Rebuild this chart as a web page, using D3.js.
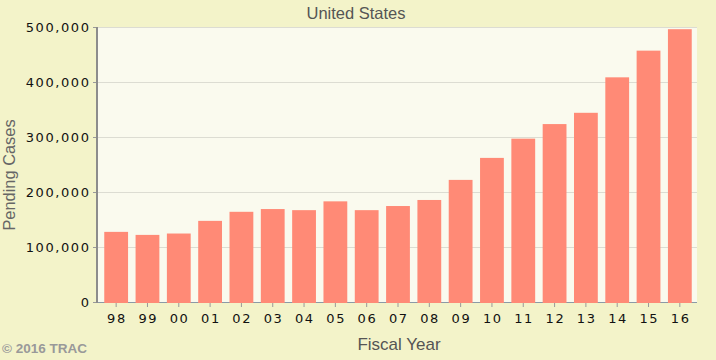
<!DOCTYPE html>
<html><head><meta charset="utf-8">
<script src="https://cdn.jsdelivr.net/npm/d3@7"></script>
<style>body{margin:0;background:#f3f3c9;}svg{display:block;}</style>
</head><body>
<svg id="c" width="716" height="360"></svg>
<script>
const years = ["98","99","00","01","02","03","04","05","06","07","08","09","10","11","12","13","14","15","16"];
const pending = [127500,122000,124500,147500,164000,169000,167000,183000,167000,174500,185500,222000,262000,297000,323500,344000,408500,457000,496000];
const yTicks = [0,100000,200000,300000,400000,500000];

const svg = d3.select("#c");
const W = 716, H = 360;
const m = {l:98, r:697, t:27, b:302};
svg.append("rect").attr("width",W).attr("height",H).attr("fill","#f3f3c9");
svg.append("rect").attr("x",m.l).attr("y",m.t).attr("width",m.r-m.l).attr("height",m.b-m.t).attr("fill","#fafaee");

const x = d3.scaleBand().domain(years).range([100.5,695.5]).paddingInner(0.24).paddingOuter(0.12);
const y = d3.scaleLinear().domain([0,500000]).range([m.b,m.t]);

// grid
svg.append("g").selectAll("line").data(yTicks.slice(1)).join("line")
  .attr("x1",m.l).attr("x2",m.r).attr("y1",d=>Math.round(y(d))+0.5).attr("y2",d=>Math.round(y(d))+0.5)
  .attr("stroke","#dcdcd2").attr("stroke-width",1);

// x-axis baseline (bluish)
svg.append("line").attr("x1",m.l).attr("x2",m.r).attr("y1",m.b+0.5).attr("y2",m.b+0.5)
  .attr("stroke","#8a9aa6").attr("stroke-width",1);

// bars
svg.append("g").selectAll("rect").data(pending).join("rect")
  .attr("x",(d,i)=>x(years[i])).attr("width",x.bandwidth())
  .attr("y",d=>y(d)).attr("height",d=>m.b-y(d)+1)
  .attr("fill","#ff8a76");

const tickFont = "DejaVu Sans, Verdana, sans-serif";
// y axis
const ya = d3.axisLeft(y).tickValues(yTicks).tickSize(4).tickPadding(4).tickFormat(d3.format(","));
const gy = svg.append("g").attr("transform",`translate(${m.l-1},0)`).call(ya);
gy.select(".domain").remove();
gy.selectAll(".tick line").attr("stroke","#999");
gy.selectAll("text").attr("font-family",tickFont).attr("font-size",13).attr("letter-spacing","1.6px")
  .attr("fill","#111").attr("dx","1.6");
svg.append("line").attr("x1",m.l-1).attr("x2",m.l-1).attr("y1",m.t).attr("y2",m.b+1).attr("stroke","#8c8c8c").attr("stroke-width",2);

// x axis
const xa = d3.axisBottom(x).tickSize(4).tickPadding(7);
const gx = svg.append("g").attr("transform",`translate(0,${m.b+1})`).call(xa);
gx.select(".domain").remove();
gx.selectAll(".tick line").attr("stroke","#999");
gx.selectAll("text").attr("font-family",tickFont).attr("font-size",13).attr("letter-spacing","1.6px")
  .attr("fill","#111").attr("dx","0.8");

// titles
const tFont = "Liberation Sans, Arial, sans-serif";
svg.append("text").attr("x",356).attr("y",19).attr("text-anchor","middle")
  .attr("font-family",tFont).attr("font-size",16.5).attr("fill","#555").text("United States");
svg.append("text").attr("x",399).attr("y",350).attr("text-anchor","middle")
  .attr("font-family",tFont).attr("font-size",17).attr("fill","#555").text("Fiscal Year");
svg.append("text").attr("transform","translate(15,175) rotate(-90)").attr("text-anchor","middle")
  .attr("font-family",tFont).attr("font-size",16.4).attr("fill","#666").text("Pending Cases");
svg.append("text").attr("x",2).attr("y",353)
  .attr("font-family",tFont).attr("font-size",13.5).attr("font-weight","bold").attr("fill","#999").text("© 2016 TRAC");
</script>
</body></html>
